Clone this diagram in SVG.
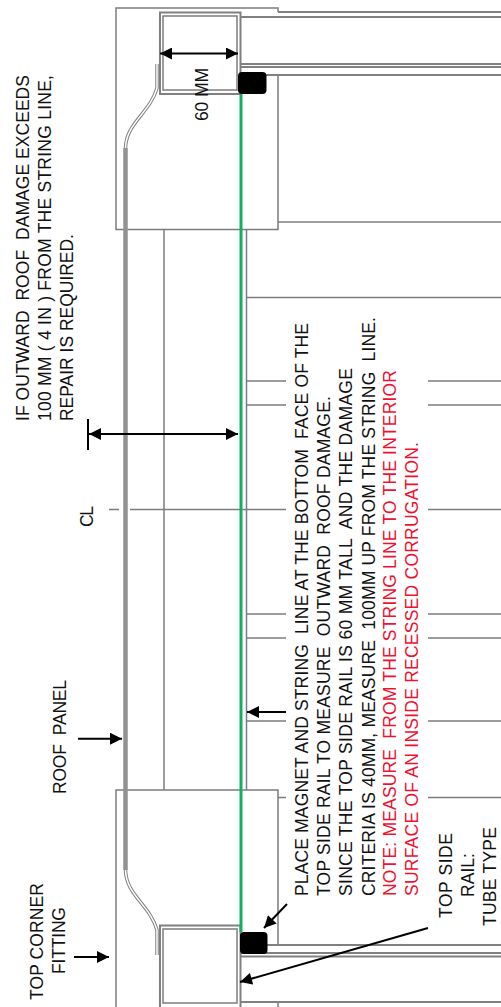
<svg xmlns="http://www.w3.org/2000/svg" width="501" height="1007" viewBox="0 0 501 1007">
<style>
text{font-family:"Liberation Sans",Arial,sans-serif;font-size:17.500px;fill:#111;white-space:pre}
.r{fill:#f01030}
.g{fill:none;stroke:#7c7c7c;stroke-width:1.500}
.t{fill:none;stroke:#808080;stroke-width:2}
.a{fill:none;stroke:#000;stroke-width:2}
</style>
<defs>
<marker id="h" viewBox="0 0 12 12" refX="12" refY="6" markerWidth="13" markerHeight="12" markerUnits="userSpaceOnUse" orient="auto-start-reverse"><path d="M0 0L12 6L0 12z" fill="#000"/></marker>
</defs>
<rect width="501" height="1007" fill="#fff"/>
<g id="top-corner-fitting-a"><path class="g" d="M278 12V8H116V229.500H278V75"/></g>
<g id="top-corner-fitting-b"><path class="g" d="M116 1007V790H278V945M278 1002V1007"/></g>
<g id="rails">
<path class="t" d="M278 12H501M241 17H501M241 64H501M241 67H501M266 75H501M266 945H501M241 953H501M241 956.500H501M241 1002H501"/>
<path class="g" d="M278 222H501"/>
</g>
<g id="structure">
<path class="g" d="M246.500 229.500V790M164 229.500V790M247 297.500H501"/>
<path class="g" d="M247 381H286M428 381H501M247 405H286M428 405H501M247 614H286M428 614H501M247 638H286M428 638H501M247 721H286M428 721H501M278 797.500H286M428 797.500H501"/>
<path class="g" d="M109 509.500H119M130 509.500H286M428 509.500H501"/>
</g>
<g id="roof-panel">
<path d="M125.500 148V870" fill="none" stroke="#929292" stroke-width="4.500"/>
<path d="M125.500 148C126 123 150 113 157 88V64M125.500 870C126 895 150 905 157 930V955" fill="none" stroke="#808080" stroke-width="3.500"/>
<path d="M125.500 148C126 123 150 113 157 88V64M125.500 870C126 895 150 905 157 930V955" fill="none" stroke="#fff" stroke-width="1.500"/>
</g>
<g id="tube-top"><rect class="t" x="160" y="12.500" width="80.500" height="81.500" fill="#fff"/><rect class="g" x="163" y="16" width="74" height="74"/></g>
<g id="tube-bottom"><path class="t" d="M160 1007V925.500H240.500V1007" fill="#fff"/><rect class="g" x="163" y="929" width="74" height="74"/></g>
<g id="string-line"><path d="M241 94V932" stroke="#10b060" stroke-width="3" fill="none"/></g>
<g id="magnet-top"><rect x="238" y="72" width="28.500" height="22" rx="4" fill="#000"/></g>
<g id="magnet-bottom"><rect x="240" y="932" width="27.500" height="22" rx="4" fill="#000"/></g>
<g id="connectors">
<path class="a" d="M160 53.500H238" marker-start="url(#h)" marker-end="url(#h)"/>
<path class="a" d="M89 434H238" marker-start="url(#h)" marker-end="url(#h)"/>
<path class="a" d="M88 419V450"/>
<path class="a" d="M286 712H247" marker-end="url(#h)"/>
<path class="a" d="M78 738.700H122" marker-end="url(#h)"/>
<path class="a" d="M74 957H109" marker-end="url(#h)"/>
<path class="a" d="M287 904L264 928" marker-end="url(#h)"/>
<path class="a" d="M428 928L240 982" marker-end="url(#h)"/>
</g>
<g id="label-60mm"><text transform="translate(208 121) rotate(-90)" textLength="53">60 MM</text></g>
<g id="label-damage">
<text transform="translate(29 421) rotate(-90)" textLength="346">IF OUTWARD  ROOF  DAMAGE EXCEEDS</text>
<text transform="translate(51 421) rotate(-90)" textLength="346">100 MM ( 4 IN ) FROM THE STRING LINE,</text>
<text transform="translate(73 421) rotate(-90)" textLength="187">REPAIR IS REQUIRED.</text>
</g>
<g id="label-cl"><text transform="translate(93 527) rotate(-90)" textLength="21">CL</text></g>
<g id="label-roof-panel"><text transform="translate(66 794) rotate(-90)" textLength="114">ROOF  PANEL</text></g>
<g id="label-top-corner-fitting">
<text transform="translate(43 1000) rotate(-90)" textLength="117">TOP CORNER</text>
<text transform="translate(65 974) rotate(-90)" textLength="67">FITTING</text>
</g>
<g id="label-instructions">
<text transform="translate(308 896) rotate(-90)" textLength="573">PLACE MAGNET AND STRING  LINE AT THE BOTTOM  FACE OF THE</text>
<text transform="translate(330 896) rotate(-90)" textLength="500">TOP SIDE RAIL TO MEASURE  OUTWARD  ROOF DAMAGE.</text>
<text transform="translate(352 896) rotate(-90)" textLength="528">SINCE THE TOP SIDE RAIL IS 60 MM TALL  AND THE DAMAGE</text>
<text transform="translate(375 896) rotate(-90)" textLength="579">CRITERIA IS 40MM, MEASURE  100MM UP FROM THE STRING  LINE.</text>
<text class="r" transform="translate(396 896) rotate(-90)" textLength="526">NOTE: MEASURE  FROM THE STRING LINE TO THE INTERIOR</text>
<text class="r" transform="translate(418 896) rotate(-90)" textLength="454">SURFACE OF AN INSIDE RECESSED CORRUGATION.</text>
</g>
<g id="label-top-side-rail">
<text transform="translate(452 918) rotate(-90)" textLength="85">TOP SIDE</text>
<text transform="translate(474 897) rotate(-90)" textLength="44">RAIL:</text>
<text transform="translate(496 926) rotate(-90)" textLength="99">TUBE TYPE</text>
</g>
</svg>
